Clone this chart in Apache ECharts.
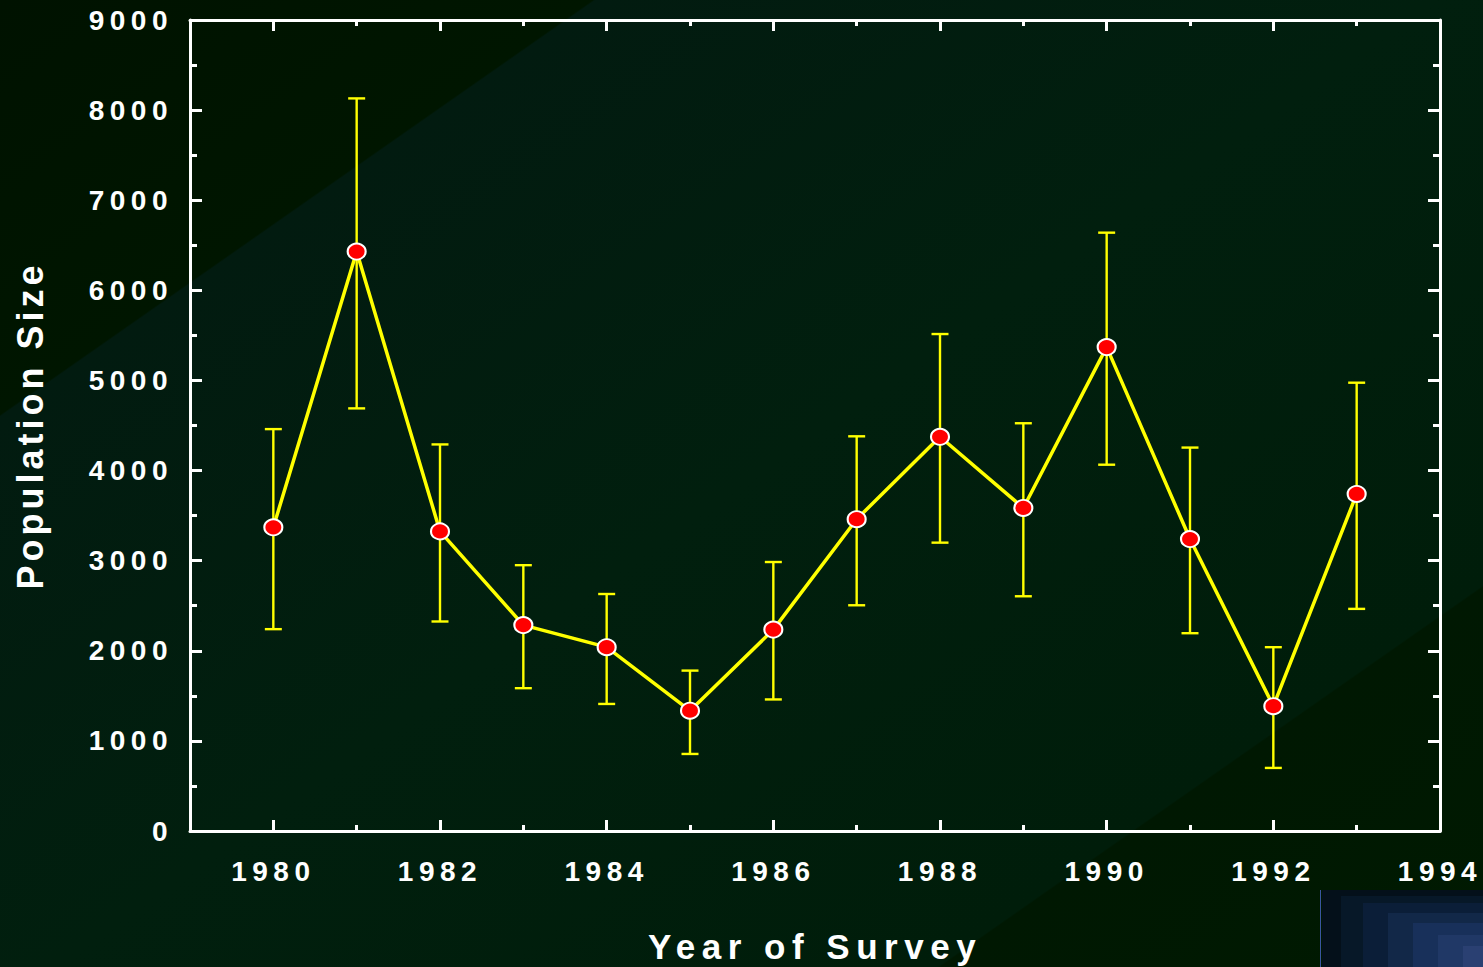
<!DOCTYPE html>
<html>
<head>
<meta charset="utf-8">
<title>Population Size by Year of Survey</title>
<script src="https://cdn.jsdelivr.net/npm/echarts@6/dist/echarts.min.js"></script>
<style>
  html, body { margin: 0; padding: 0; background: #001400; overflow: hidden; }
  #chart { width: 1483px; height: 967px; }
  /* tracked lettering for tick labels and axis titles */
  #chart text[style*="28px"], #chart text[font-size="28"], #chart text[font-size="28px"] { letter-spacing: 5.5px; }
  #chart text[style*="36px"], #chart text[font-size="36"], #chart text[font-size="36px"] { letter-spacing: 4px; }
  #chart text[style*="35px"], #chart text[font-size="35"], #chart text[font-size="35px"] { letter-spacing: 6.5px; }
</style>
</head>
<body>
<div id="chart"></div>
<script>
// Survey years and estimated population with lower/upper error limits
const years = [1980, 1981, 1982, 1983, 1984, 1985, 1986, 1987, 1988, 1989, 1990, 1991, 1992, 1993];
const population = [3370, 6430, 3325, 2285, 2040, 1335, 2235, 3460, 4375, 3585, 5370, 3240, 1385, 3740];
const upperLimit = [4460, 8130, 4290, 2950, 2630, 1780, 2985, 4380, 5515, 4525, 6640, 4255, 2040, 4975];
const lowerLimit = [2240, 4690, 2325, 1585, 1410, 855, 1460, 2505, 3200, 2605, 4065, 2195, 700, 2465];

// Axis ticks
const yearLabels = [1980, 1982, 1984, 1986, 1988, 1990, 1992, 1994];
const yearMin = 1979;
const yearMax = 1994;
const popMin = 0;
const popMax = 9000;
const popStep = 1000;

const WHITE = '#ffffff';
const YELLOW = '#ffff00';
const FONT = 'Liberation Sans';

const chart = echarts.init(document.getElementById('chart'), null, { renderer: 'svg' });

function plain(v) { return String(v); }

const baseX = {
  type: 'value',
  min: yearMin,
  max: yearMax,
  interval: 1,
  splitLine: { show: false },
  axisLine: { show: true, onZero: false, lineStyle: { color: WHITE, width: 3 } },
  axisTick: { show: true, inside: true, length: 6, lineStyle: { color: WHITE, width: 3 } },
  axisLabel: { show: false }
};
const longX = {
  type: 'value',
  min: yearMin,
  max: yearMax,
  interval: 1,
  splitLine: { show: false },
  axisLine: { show: false, onZero: false },
  axisTick: { show: true, inside: true, length: 11, customValues: yearLabels, lineStyle: { color: WHITE, width: 3 } },
  axisLabel: { show: false }
};
const baseY = {
  type: 'value',
  min: popMin,
  max: popMax,
  interval: popStep,
  splitLine: { show: false },
  axisLine: { show: true, onZero: false, lineStyle: { color: WHITE, width: 3 } },
  axisTick: { show: true, inside: true, length: 12, lineStyle: { color: WHITE, width: 3 } },
  minorTick: { show: true, splitNumber: 2, length: 7, lineStyle: { color: WHITE, width: 3 } },
  axisLabel: { show: false }
};

// Background: diagonal bands of dark green plus the corner ornament
const bgGradient = new echarts.graphic.LinearGradient(0, 0, 941, 1345, [
  { offset: 0, color: '#001200' },
  { offset: 0.207, color: '#001600' },
  { offset: 0.208, color: '#021b10' },
  { offset: 0.5, color: '#011f0e' },
  { offset: 0.81, color: '#001d0a' },
  { offset: 0.811, color: '#001802' },
  { offset: 1, color: '#001a01' }
], true);

const cornerSteps = [
  [1322, 890, '#04101a'],
  [1341, 896, '#071828'],
  [1363, 903, '#0b1e38'],
  [1388, 913, '#122848'],
  [1413, 923, '#18305a'],
  [1438, 935, '#203866'],
  [1463, 946, '#2a4072']
];
const cornerRects = cornerSteps.map(function (s) {
  return { type: 'rect', z: -9, silent: true,
    shape: { x: s[0], y: s[1], width: 1483 - s[0], height: 967 - s[1] },
    style: { fill: s[2] } };
});

const option = {
  animation: false,
  grid: { left: 190, right: 43, top: 20, bottom: 136, outerBoundsMode: 'none', containLabel: false },
  graphic: [
    { type: 'rect', z: -10, silent: true, shape: { x: 0, y: 0, width: 1483, height: 967 }, style: { fill: bgGradient } },
    { type: 'rect', z: -9, silent: true, shape: { x: 1320, y: 890, width: 1, height: 77 }, style: { fill: '#3a55a0' } }
  ].concat(cornerRects),
  xAxis: [
    Object.assign({}, baseX, {
      position: 'bottom',
      name: 'Year of Survey',
      nameLocation: 'middle',
      nameGap: 98,
      nameTextStyle: { color: WHITE, fontSize: 35, fontWeight: 'bold', fontFamily: FONT },
      axisLabel: { show: true, customValues: yearLabels, formatter: plain, margin: 26, color: WHITE, fontSize: 28, fontWeight: 'bold', fontFamily: FONT }
    }),
    Object.assign({}, longX, { position: 'bottom' }),
    Object.assign({}, baseX, { position: 'top' }),
    Object.assign({}, longX, { position: 'top' })
  ],
  yAxis: [
    Object.assign({}, baseY, {
      position: 'left',
      name: 'Population Size',
      nameLocation: 'middle',
      nameGap: 142,
      nameTextStyle: { color: WHITE, fontSize: 36, fontWeight: 'bold', fontFamily: FONT },
      axisLabel: { show: true, formatter: plain, margin: 17, color: WHITE, fontSize: 28, fontWeight: 'bold', fontFamily: FONT }
    }),
    Object.assign({}, baseY, { position: 'right' })
  ],
  series: [
    {
      name: 'range',
      type: 'custom',
      xAxisIndex: 0,
      yAxisIndex: 0,
      z: 2,
      data: years.map(function (y, i) { return [y, upperLimit[i], lowerLimit[i]]; }),
      encode: { x: 0, y: [1, 2] },
      renderItem: function (params, api) {
        const x = api.value(0);
        const top = api.coord([x, api.value(1)]);
        const bottom = api.coord([x, api.value(2)]);
        const half = 8.5;
        const style = { stroke: YELLOW, lineWidth: 2.4, fill: null };
        return {
          type: 'group',
          children: [
            { type: 'line', shape: { x1: top[0], y1: top[1], x2: bottom[0], y2: bottom[1] }, style: style },
            { type: 'line', shape: { x1: top[0] - half, y1: top[1], x2: top[0] + half, y2: top[1] }, style: style },
            { type: 'line', shape: { x1: bottom[0] - half, y1: bottom[1], x2: bottom[0] + half, y2: bottom[1] }, style: style }
          ]
        };
      }
    },
    {
      name: 'Population Size',
      type: 'line',
      xAxisIndex: 0,
      yAxisIndex: 0,
      z: 3,
      data: years.map(function (y, i) { return [y, population[i]]; }),
      symbol: 'circle',
      symbolSize: [18, 16],
      showAllSymbol: true,
      lineStyle: { color: YELLOW, width: 3.5 },
      itemStyle: { color: '#ff0000', borderColor: WHITE, borderWidth: 2 }
    }
  ]
};

chart.setOption(option);
</script>
</body>
</html>
